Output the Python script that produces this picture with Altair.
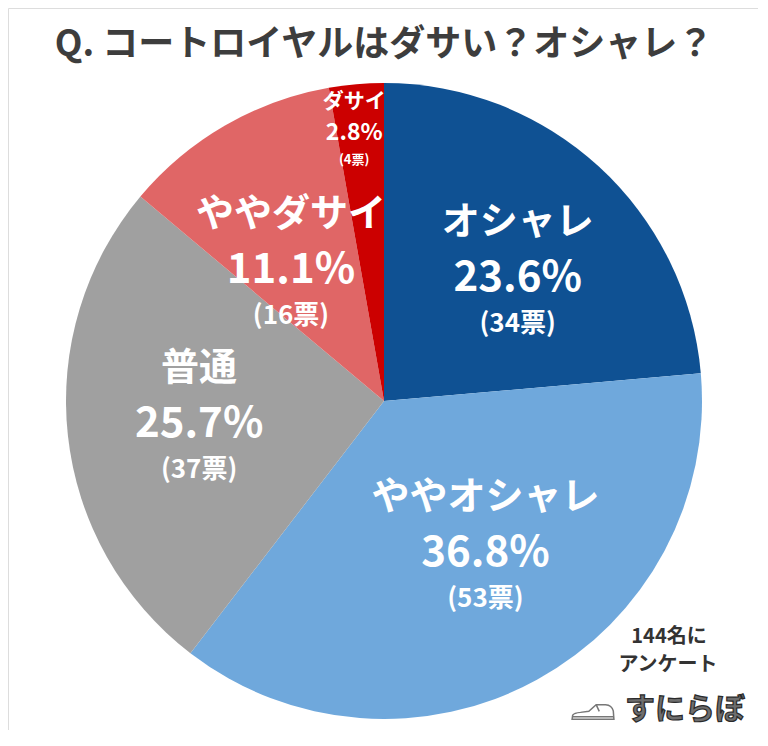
import math
import altair as alt
import pandas as pd

categories = ["オシャレ", "ややオシャレ", "普通", "ややダサイ", "ダサイ"]
votes = [34, 53, 37, 16, 4]
percents = ["23.6%", "36.8%", "25.7%", "11.1%", "2.8%"]
colors = ["#0f5193", "#6fa8dc", "#a0a0a0", "#e06666", "#cc0000"]
order = [0, 1, 2, 3, 4]

title_text = "Q. コートロイヤルはダサい？オシャレ？"
note_lines = ["144名に", "アンケート"]
logo_text = "すにらぼ"

df = pd.DataFrame({
    "cat": categories,
    "votes": votes,
    "pct": percents,
    "ord": order,
    "vote_label": [f"({v}票)" for v in votes],
})

FONT = "Noto Sans CJK JP"
CX, CY, R = 376, 393, 318

pie = alt.Chart(df).mark_arc(outerRadius=R).encode(
    theta=alt.Theta("votes:Q", stack=True),
    order=alt.Order("ord:Q"),
    x=alt.value(CX),
    y=alt.value(CY),
    color=alt.Color("cat:N", scale=alt.Scale(domain=categories, range=colors), legend=None),
)

lab_base = alt.Chart(df).transform_window(
    cum="sum(votes)", sort=[alt.SortField("ord")], frame=[None, 0]
).transform_joinaggregate(
    total="sum(votes)"
).transform_calculate(
    frac="(datum.cum - datum.votes / 2) / datum.total"
)


def label_block(name, radius, sizes, dys, dx=0, dy=0):
    b = lab_base.transform_filter(alt.datum.cat == name).encode(
        theta=alt.Theta("frac:Q", stack=None,
                        scale=alt.Scale(domain=[0, 1], range=[0, 2 * math.pi])),
        x=alt.value(CX),
        y=alt.value(CY),
    )
    out = []
    for field, size, d in zip(("cat", "pct", "vote_label"), sizes, dys):
        out.append(b.mark_text(radius=radius, font=FONT, fontWeight="bold", fontSize=size,
                               color="white", dx=dx, dy=d + dy, align="center",
                               baseline="middle")
                   .encode(text=alt.Text(f"{field}:N")))
    return out


BIG = (38, 42, 26)
labels = []
labels += label_block("オシャレ", 186, BIG, (-55, 0, 46), dx=8, dy=14)
labels += label_block("ややオシャレ", 186, BIG, (-55, 0, 46), dx=12, dy=-11)
labels += label_block("普通", 186, BIG, (-55, 0, 46), dx=0, dy=3)
labels += label_block("ややダサイ", 168, BIG, (-55, 0, 46), dx=-9, dy=14)
labels += label_block("ダサイ", 273, (21, 23, 13), (-31, 0, 27), dx=-6, dy=4)
label_layer = alt.layer(*labels)


def free_text(t, x, y, size, color="#333333", **kw):
    return alt.Chart(pd.DataFrame({"t": [t]})).mark_text(
        font=FONT, fontWeight="bold", fontSize=size, color=color,
        align="center", baseline="middle", **kw
    ).encode(text="t:N", x=alt.value(x), y=alt.value(y))


title = free_text(title_text, 376, 37, 36, color="#3d3d3d")
note1 = free_text(note_lines[0], 661, 629, 20)
note2 = free_text(note_lines[1], 660, 657, 20)
logo = free_text(logo_text, 677, 702, 30, color="#6e6e6e", stroke="#2a2a2a", strokeWidth=1.2)

shoe_path = ("M -1 0.3 L -0.97 0.1 Q -0.9 0 -0.6 -0.03 L -0.2 -0.08 "
             "L 0.15 -0.4 L 0.6 -0.4 Q 0.9 -0.38 0.97 -0.1 L 1 0.3 Z "
             "M -1 0.18 L 1 0.18 M 0.15 -0.4 L 0.3 -0.08")
shoe = alt.Chart(pd.DataFrame({"t": ["shoe"]})).mark_point(
    shape=shoe_path, size=1750, filled=False, stroke="#777777", strokeWidth=1.5, opacity=1
).encode(x=alt.value(585), y=alt.value(705))

chart = alt.layer(pie, label_layer, title, note1, note2, logo, shoe).resolve_scale(
    theta="independent"
).properties(
    width=750,
    height=722,
    autosize=alt.AutoSizeParams(type="none"),
    padding=0,
).configure_view(stroke=None).configure(background="white")

chart.save("out.html", embed_options={"renderer": "svg", "actions": False})
